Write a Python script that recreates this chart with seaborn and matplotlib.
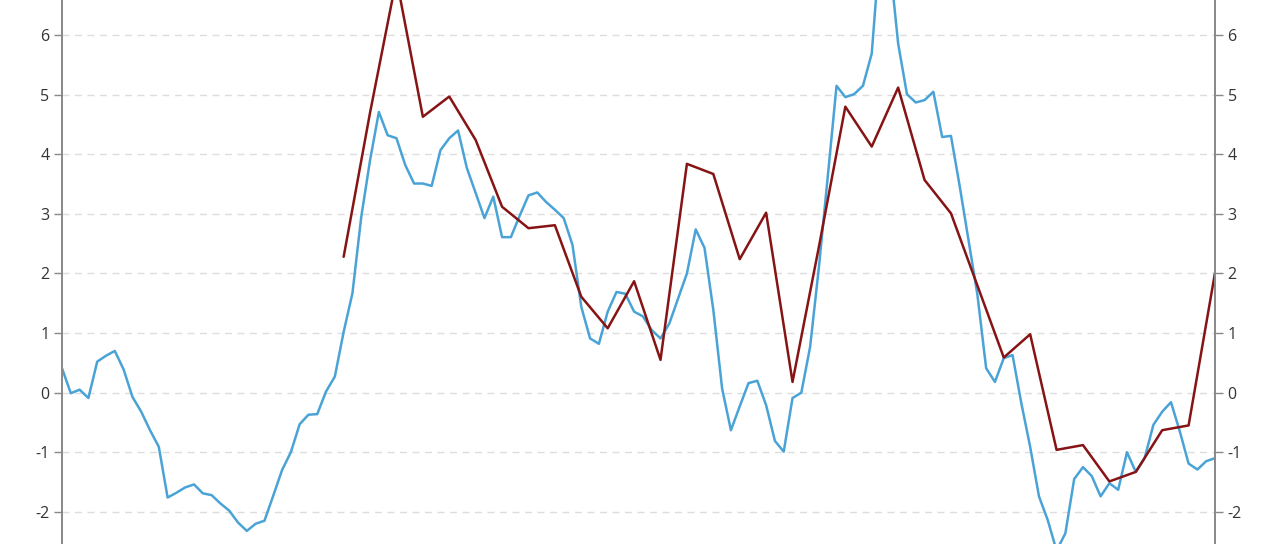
import numpy as np
import pandas as pd
import matplotlib
matplotlib.use("Agg")
import matplotlib.pyplot as plt
import seaborn as sns

# monthly series (blue)
monthly = [
    0.41, -0.01, 0.05, -0.09, 0.52, 0.62, 0.70, 0.39, -0.07, -0.32,
    -0.63, -0.91, -1.76, -1.68, -1.59, -1.54, -1.69, -1.72, -1.86, -1.98,
    -2.18, -2.32, -2.20, -2.15, -1.73, -1.30, -1.00, -0.53, -0.37, -0.36,
    0.02, 0.27, 1.02, 1.67, 2.95, 3.90, 4.71, 4.32, 4.27, 3.82,
    3.51, 3.51, 3.47, 4.07, 4.27, 4.40, 3.77, 3.35, 2.93, 3.29,
    2.61, 2.61, 2.97, 3.31, 3.36, 3.20, 3.07, 2.93, 2.48, 1.44,
    0.91, 0.82, 1.36, 1.69, 1.66, 1.36, 1.28, 1.05, 0.91, 1.16,
    1.58, 2.00, 2.74, 2.43, 1.39, 0.07, -0.63, -0.23, 0.16, 0.20,
    -0.21, -0.81, -0.99, -0.09, 0.00, 0.77, 2.11, 3.62, 5.15, 4.96,
    5.01, 5.15, 5.69, 7.60, 7.30, 5.86, 5.01, 4.87, 4.91, 5.05,
    4.29, 4.31, 3.46, 2.55, 1.65, 0.41, 0.18, 0.58, 0.63, -0.18,
    -0.91, -1.74, -2.14, -2.65, -2.36, -1.45, -1.25, -1.40, -1.74, -1.52,
    -1.63, -1.00, -1.33, -1.10, -0.54, -0.32, -0.16, -0.65, -1.19, -1.29,
    -1.15, -1.10,
]

# quarterly series (dark red), starts at month 32
quarterly_start = 32
quarterly = [
    2.28, 4.70, 6.95, 4.63, 4.97, 4.24, 3.12, 2.76, 2.81, 1.61,
    1.08, 1.87, 0.55, 3.84, 3.67, 2.24, 3.02, 0.18, 2.45, 4.80,
    4.13, 5.12, 3.57, 3.01, 1.80, 0.59, 0.98, -0.96, -0.88, -1.49,
    -1.33, -0.63, -0.55, 2.01,
]

yticks = [-2, -1, 0, 1, 2, 3, 4, 5, 6]

df_m = pd.DataFrame({"month": np.arange(len(monthly)), "value": monthly})
df_q = pd.DataFrame({
    "month": quarterly_start + 3 * np.arange(len(quarterly)),
    "value": quarterly,
})

sns.set_style("white")
plt.rcParams["font.family"] = ["Open Sans", "DejaVu Sans"]

fig = plt.figure(figsize=(12.8, 5.44), dpi=100)
ax = fig.add_axes([62 / 1280, 0, (1215 - 62) / 1280, 1])

sns.lineplot(data=df_m, x="month", y="value", ax=ax, color="#4aa3d6", lw=1.8)
sns.lineplot(data=df_q, x="month", y="value", ax=ax, color="#861414", lw=1.8)

ax.set_xlim(0, len(monthly) - 1)
ax.set_ylim(-2.54, 6.59)
ax.set_yticks(yticks)
ax.set_yticklabels([str(t) for t in yticks])
ax.set_xticks([])
ax.set_xlabel("")
ax.set_ylabel("")
ax.set_axisbelow(True)
ax.yaxis.grid(True, linestyle=(0, (5, 4)), color="#dddddd", lw=1)

ax2 = ax.twinx()
ax2.set_ylim(ax.get_ylim())
ax2.set_yticks(yticks)
ax2.set_yticklabels([str(t) for t in yticks])

for a in (ax, ax2):
    for side in ("top", "bottom"):
        a.spines[side].set_visible(False)
    for side in ("left", "right"):
        a.spines[side].set_color("#888888")
        a.spines[side].set_linewidth(1.2)
    a.tick_params(axis="y", length=6, width=1, color="#888888",
                  labelsize=11.5, labelcolor="#333333", pad=3)

fig.savefig("out.png", dpi=100)
